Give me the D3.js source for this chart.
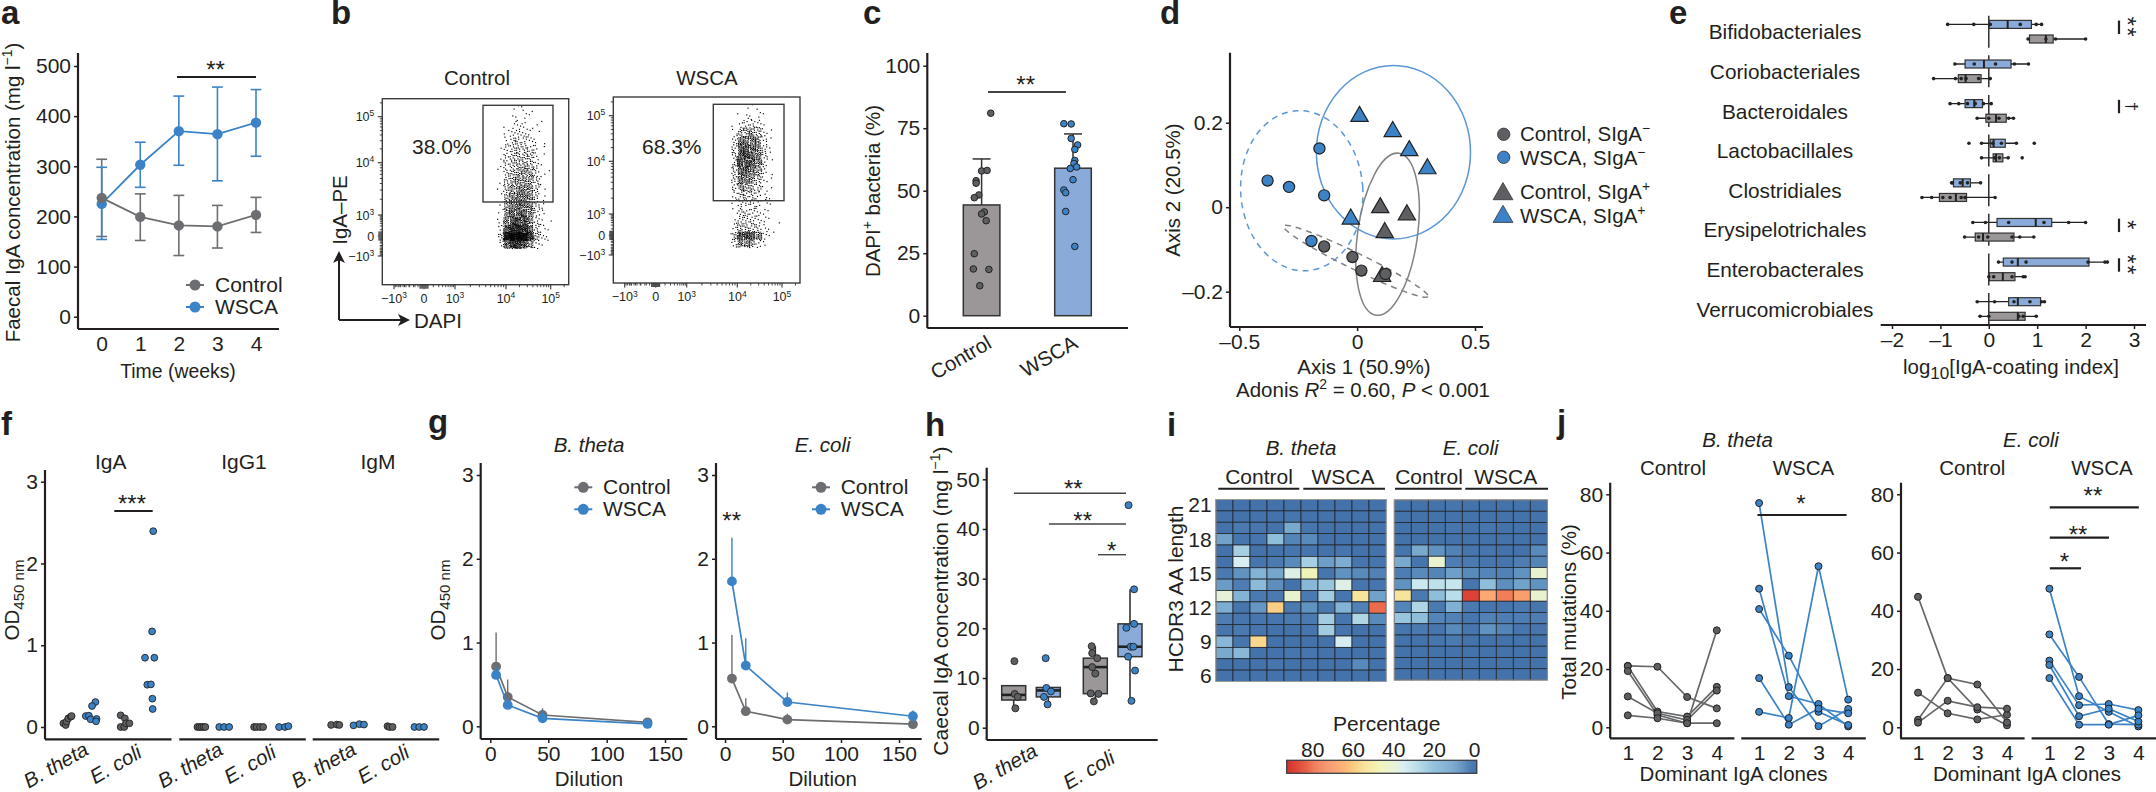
<!DOCTYPE html>
<html><head><meta charset="utf-8">
<script src="https://cdn.jsdelivr.net/npm/d3@7"></script>
<style>html,body{margin:0;padding:0;background:#fff}svg{display:block;font-family:"Liberation Sans",Arial,sans-serif}</style>
</head><body><svg id="c" width="2156" height="792"></svg>
<script>
// ---------- a ----------
const weeks=[0,1,2,3,4];
const aControl=[237,199,182,180,203], aControlHi=[314,245,242,222,238], aControlLo=[160,152,122,137,168];
const aWSCA=[225,303,370,364,387], aWSCAHi=[298,348,440,458,453], aWSCALo=[154,258,302,271,320];
// ---------- b: event density per gate-plot cell.
// (individual events cannot be read; dots are a stipple texture that reproduces these counts)
const bRows=d3.range(18), bCols=d3.range(9);
const bControlDensity=[
[0,0,1,1,2,1,0,0,0],[0,0,1,2,2,1,0,0,0],[0,1,2,3,3,1,1,1,0],[0,2,4,5,4,2,1,0,0],[0,3,6,7,6,4,2,1,0],[1,5,8,9,8,6,3,1,0],
[1,6,9,10,10,8,4,1,0],[1,6,9,11,12,10,5,1,0],[1,7,11,13,15,13,6,1,1],[1,9,13,15,16,14,6,1,0],[1,9,15,18,19,16,7,2,0],[1,11,18,21,22,17,7,2,0],
[1,13,21,23,23,17,7,2,0],[2,15,24,27,25,17,6,2,0],[2,20,30,32,30,18,6,2,1],[3,30,45,48,40,25,7,3,1],[8,60,80,80,70,40,12,4,2],[3,25,40,40,30,15,4,1,0]];
const bWSCADensity=[
[0,0,0,1,1,1,0,0,0],[0,0,1,2,2,2,1,0,0],[0,1,3,5,6,4,1,0,0],[0,2,10,12,14,10,3,1,0],[0,5,20,20,20,15,5,1,0],[0,7,26,28,24,18,7,1,0],
[0,8,28,32,26,20,7,1,0],[0,8,30,32,26,18,6,1,0],[0,7,26,26,20,14,4,1,0],[0,7,22,20,15,10,3,1,0],[0,6,15,12,10,7,2,1,0],[0,4,8,7,7,5,2,1,0],
[0,2,5,5,5,4,2,1,0],[0,2,6,6,5,4,2,1,0],[0,2,7,6,6,4,2,1,1],[0,4,10,8,8,6,3,1,0],[1,10,30,32,28,20,4,1,1],[0,5,18,18,12,5,2,0,0]];
const bTickVals=[-1000,0,1000,1e4,1e5];
const bPercent=["38.0%","68.3%"];
// ---------- c ----------
const cMeans=[44.3,59], cTops=[62.7,72.7];
const cControlX=[1.10,1.00,1.06,.94,.94,.97,.92,1.03,1.0,1.05,.92,.91,1.08,.98];
const cControlV=[81,57.9,58.1,54,53,48.3,47.2,41.5,40.7,38,24.8,18.7,18.5,12];
const cWSCAX=[1.90,1.98,1.98,2.05,2.02,2.02,2.01,2.04,1.97,2.0,1.90,1.92,1.92,2.02];
const cWSCAV=[76.8,76.7,70.9,68.3,66.5,62.1,60.9,59.5,58.9,54.4,50.3,49.2,41.7,27.7];
// ---------- d ----------
const dWSCAneg=[[-.16,.139],[-.38,.063],[-.289,.048],[-.14,.028],[-.194,-.08]];
const dControlNeg=[[-.14,-.093],[-.02,-.118],[.018,-.15],[.12,-.158]];
const dWSCApos=[[.01,.215],[.151,.179],[.221,.134],[.298,.091],[-.027,-.028]];
const dControlPos=[[.098,-.001],[.211,-.018],[.117,-.06],[.106,-.164]];
// cx, cy, semi axis a, semi axis b (x-axis units), tilt degrees
const dEllipseWSCApos=[.154,.13,.327,.368,0];
const dEllipseWSCAneg=[-.235,.039,.259,.34,-4];
const dEllipseControlPos=[.129,-.064,.127,.347,8];
const dEllipseControlNeg=[-.006,-.128,.341,.035,26];
// ---------- e ----------
const eOrders=["Bifidobacteriales","Coriobacteriales","Bacteroidales","Lactobacillales","Clostridiales","Erysipelotrichales","Enterobacterales","Verrucomicrobiales"];
// [whisker low, q1, median, q3, whisker high]
const eWSCABox=[[-.85,.01,.39,.88,1.11],[-.70,-.49,-.10,.46,.82],[-.80,-.49,-.30,-.13,.05],[-.15,.03,.10,.34,.57],[-.77,-.73,-.54,-.38,-.17],[-.33,.17,.97,1.30,2.0],[.20,.30,.60,2.07,2.47],[-.24,.41,.60,1.07,1.17]];
const eControlBox=[[.8,.84,1.18,1.33,2.0],[-1.14,-.63,-.48,-.16,.05],[-.24,-.06,.15,.36,.51],[-.15,.09,.15,.29,.40],[-1.38,-1.02,-.68,-.46,.13],[-.50,-.28,-.12,.52,.93],[0,.01,.29,.54,.75],[-.18,0,.60,.75,.98]];
const eWSCAPts=[[-.85,-.31,.03,.65,.98,1.09],[-.70,-.30,.14,.53,.82],[-.80,-.62,-.44,-.28,-.11,.05],[-.41,-.15,.08,.26,.57,.94],[-.77,-.75,-.59,-.44,-.17],[-.33,-.07,.41,1.14,1.65,2.0],[.20,.48,.77,2.05,2.40,2.45],[-.24,.12,.52,.85,1.09,1.15]];
const eControlPts=[[.81,1.18,1.38,2.0],[-1.14,-.69,-.57,-.47,-.21,.03],[-.24,0,.21,.41,.51],[-.15,.12,.22,.40,.69],[-1.38,-1.18,-.95,-.80,-.57,-.49,.13],[-.50,-.21,-.02,.48,.64,.93],[0,.10,.48,.71,.75],[-.18,0,.62,.71,.98]];
const eSig=[["**",0],["†",2],["*",5],["**",6]];
// ---------- f: [x position in group units, value] ----------
const fFacets=["IgA","IgG1","IgM"];
const fIgAControl=[[.65,.045],[.73,.024],[.76,.065],[.82,.106],[.91,.126],[.94,.134],[2.67,.143],[2.82,.106],[2.67,0],[2.8,0],[2.86,.045],[2.98,.045]];
const fIgAWSCA=[[1.78,.305],[1.66,.257],[1.44,.134],[1.55,.138],[1.61,.094],[1.82,.098],[1.8,.069],[3.82,2.395],[3.78,1.169],[3.53,.847],[3.86,.847],[3.61,.517],[3.74,.521],[3.79,.346],[3.8,.22]];
const fIgG1Control=[[.64,0],[.71,0],[.78,0],[.85,0],[.92,0],[2.64,0],[2.73,0],[2.85,0],[2.96,0]];
const fIgG1WSCA=[[1.41,0],[1.58,0],[1.76,0],[3.52,0],[3.73,0],[3.85,.01]];
const fIgMControl=[[.65,.025],[.85,.03],[.94,.025],[2.64,.01],[2.71,0],[2.82,0]];
const fIgMWSCA=[[1.44,.02],[1.65,.035],[1.81,.03],[3.59,0],[3.76,0],[3.93,0]];
// ---------- g ----------
const gDilB=[5,15,45,135], gDilE=[6,18,54,162];
const gBControl=[.713,.35,.135,.048], gBControlTop=[1.12,.56,.215,.09];
const gBWSCA=[.613,.255,.095,.028], gBWSCATop=[.71,.33,.18,.05];
const gEControl=[.57,.18,.08,.025], gEControlTop=[1.09,.335,.15,.06];
const gEWSCA=[1.73,.725,.29,.12], gEWSCATop=[2.25,1.05,.405,.19];
// ---------- h ----------
const hGroups=["B. theta","E. coli"];
const hBoxes=[[3.9,5.57,6.6,8.46,8.46],[4.7,6.2,7.5,8.1,8.1],[5.3,6.85,12.2,14,16.4],[5.4,14.3,16.3,20.9,27.85]];
const hPts=[
 [[.03,13.4],[.04,6.8],[.17,6.2],[.07,3.9]],
 [[-.11,14],[-.08,8],[.11,7.3],[-.18,6.2],[-.03,4.7]],
 [[-.15,16.4],[-.13,15],[.08,14],[-.13,12.2],[0,10.9],[-.19,6.9],[.13,6.8],[-.06,5.3]],
 [[-.06,44.8],[.17,27.85],[-.15,20.1],[.17,20.9],[.03,16.3],[.14,16.3],[-.08,14.3],[.21,11.5],[.06,5.4]]];
// ---------- i ----------
const iLengths=d3.range(21,5,-1);
const iBTheta=[
[0,0,0,0,0,0,0,0,0,0],[0,0,0,0,1,0,0,0,0,0],[0,2,1,0,14,1,0,0,0,0],[12,1,1,20,5,6,0,0,0,0],
[0,25,0,0,1,1,0,1,0,0],[0,36,1,2,6,25,11,15,1,1],[2,8,17,13,38,47,1,8,6,4],[10,3,19,7,0,18,22,38,1,1],
[40,17,2,2,42,2,24,1,55,12],[15,1,9,60,2,8,2,17,4,82],[3,1,1,1,2,2,24,1,27,6],[1,2,1,0,0,1,24,1,0,0],
[18,1,58,0,0,0,0,35,0,0],[14,18,0,0,1,1,0,0,0,0],[0,0,0,1,0,0,0,0,6,0],[0,0,0,0,0,0,0,0,0,0]];
const iEColi=[
[0,0,0,1,0,0,0,0,0],[0,0,0,0,0,0,0,0,0],[0,0,0,1,0,1,0,0,0],[0,0,0,0,0,0,0,0,0],
[1,14,8,4,1,1,0,0,6],[14,1,42,3,2,1,1,3,5],[3,6,5,11,6,5,4,8,42],[8,33,30,32,1,20,7,12,8],
[55,2,20,29,90,68,78,70,42],[5,27,2,16,2,1,1,2,1],[22,20,5,4,1,4,3,3,3],[1,2,1,6,1,8,5,1,1],
[0,0,1,2,0,0,0,0,0],[0,0,0,0,0,0,0,0,0],[0,0,0,0,0,0,0,0,0],[0,0,0,0,0,0,0,0,0]];
const iLegendTicks=[80,60,40,20,0];
const iColorStops=[0,5,10,20,30,36,40,47,55,62,70,80,93];
const iColorVals=["#4472ab","#5485b8","#6a9cc6","#8fbedb","#bee0eb","#d8eef3","#e4f1d8","#f1f4b8","#f7e49c","#fcc57d","#fb9e6e","#ee7653","#d6322e"];
// ---------- j ----------
const clones=[1,2,3,4];
const jBControl=[[21.1,20.8,10.4,6.5],[21,5.4,3.7,13.9],[19.3,4.2,1.4,33.3],[10.6,4.8,2.5,12.6],[4.1,3.1,1.4,1.4]];
const jBWSCA=[[77,13.8,.4,6.3],[47.6,10.7,8,.3],[40.6,24.6,5.3,.8],[16.9,.9,6.4,4.8],[5.3,3.2,55.3,9.5]];
const jEControl=[[44.8,16.9,6.1,.7],[11.9,4.8,2.7,4.3],[2.6,16.9,14.7,1.7],[1.6,9.1,6.9,6.4]];
const jEWSCA=[[47.6,10.7,5.3,.3],[31.9,17.3,1.1,.9],[22.9,7.6,8,5.9],[21.4,3.8,6.4,2],[16.9,.9,.9,4.1]];

// ======================================================
const TXT="#231f20",GREY="#6d6e71",BLUE="#3b83c6",DGREY="#5e5f62",BARG="#9b9798",BARB="#8aabd9",FS=20.5,TICKFS=21;
const svg=d3.select("#c");
function T(x,y,s,o={}){
  const t=svg.append("text").attr("x",x).attr("y",y).attr("fill",o.fill||TXT)
   .attr("font-size",o.size||FS).attr("text-anchor",o.anchor||"middle");
  if(o.weight)t.attr("font-weight",o.weight);
  if(o.italic)t.attr("font-style","italic");
  if(o.rot!=null)t.attr("transform",`rotate(${o.rot},${x},${y})`);
  const parts=Array.isArray(s)?s:[s];let shift=0;const sz=o.size||FS;
  parts.forEach(p=>{
    const q=typeof p==="string"?{t:p}:p;const sp=t.append("tspan").text(q.t);
    let target=0,fs=sz;
    if(q.sup){target=-.38*sz;fs=sz*.68}
    if(q.sub){target=.26*sz;fs=sz*.68}
    if(q.subSize)fs=q.subSize;
    sp.attr("font-size",fs);
    if(target!==shift)sp.attr("dy",target-shift);
    shift=target;
    if(q.i)sp.attr("font-style","italic");
  });
  return t;
}
function star(x,yc,s,size=24){T(x,yc+.57*size,s,{size})}
function L(x1,y1,x2,y2,col=TXT,w=2,dash){const l=svg.append("line").attr("x1",x1).attr("y1",y1).attr("x2",x2).attr("y2",y2).attr("stroke",col).attr("stroke-width",w);if(dash)l.attr("stroke-dasharray",dash);return l}
function yAxis(scale,ticks,x,top,bot,fmt=String,size=4,pad=3){
  const g=svg.append("g").attr("transform",`translate(${x},0)`).call(d3.axisLeft(scale).tickValues(ticks).tickSize(size).tickPadding(pad).tickFormat(fmt));
  g.select(".domain").remove();g.selectAll("line").attr("stroke",TXT).attr("stroke-width",1.5);
  g.selectAll("text").attr("font-size",TICKFS).attr("font-family",null).attr("fill",TXT);
  L(x,top,x,bot,TXT,2.2);
}
function xAxis(scale,ticks,y,x0,x1,fmt=String,size=4,pad=3){
  const g=svg.append("g").attr("transform",`translate(0,${y})`).call(d3.axisBottom(scale).tickValues(ticks).tickSize(size).tickPadding(pad).tickFormat(fmt));
  g.select(".domain").remove();g.selectAll("line").attr("stroke",TXT).attr("stroke-width",1.5);
  g.selectAll("text").attr("font-size",TICKFS).attr("font-family",null).attr("fill",TXT);
  L(x0,y,x1,y,TXT,2.2);
}
const panel=(s,x,y)=>T(x,y,s,{anchor:"start",size:33,weight:"bold"});
[["a",1,24],["b",331,24],["c",863,24],["d",1160,24],["e",1669,24],["f",1,435],["g",428,433],["h",925,436],["i",1167,436],["j",1557,433]].forEach(d=>panel(...d));
function legendLine(x,y,col,tx,s){L(x-9,y,x+9,y,col,2);svg.append("circle").attr("cx",x).attr("cy",y).attr("r",5.5).attr("fill",col);T(tx,y+7,s,{anchor:"start",size:21})}

// ----- a
{
 const x=d3.scalePoint(weeks,[101.7,256]),y=d3.scaleLinear([0,500],[316.7,66]);
 yAxis(y,[0,100,200,300,400,500],78,53,329);
 xAxis(x,weeks,329,78,279,String,0,7);
 [[aControl,aControlHi,aControlLo,GREY],[aWSCA,aWSCAHi,aWSCALo,BLUE]].forEach(([m,h,l,c])=>{
  weeks.forEach((w,i)=>{
   L(x(w),y(h[i]),x(w),y(l[i]),c,1.6);
   L(x(w)-5.4,y(h[i]),x(w)+5.4,y(h[i]),c,1.6);L(x(w)-5.4,y(l[i]),x(w)+5.4,y(l[i]),c,1.6);
  });
  svg.append("path").datum(m).attr("fill","none").attr("stroke",c).attr("stroke-width",1.8)
   .attr("d",d3.line().x((d,i)=>x(weeks[i])).y(d=>y(d)));
 });
 [[aWSCA,BLUE],[aControl,GREY]].forEach(([m,c])=>svg.append("g").selectAll("circle").data(m).join("circle").attr("cx",(d,i)=>x(weeks[i])).attr("cy",d=>y(d)).attr("r",5.2).attr("fill",c));
 L(177,77,256,77,TXT,2);star(215.5,64,"**");
 legendLine(195,285,GREY,215,"Control");legendLine(195,307,BLUE,215,"WSCA");
 T(178,378,"Time (weeks)",{size:19.4});
 T(20,192.5,["Faecal IgA concentration (mg l",{t:"−1",sup:1},")"],{rot:-90});
}
// ----- b
function flow(box,gate,xTicks,yTicks,density,colStart,pct,title,tx,pctx){
 const [x0,y0,x1,y1]=box;
 const X=d3.scaleLinear(bTickVals,xTicks),Y=d3.scaleLinear(bTickVals,yTicks);
 // stipple: fixed low-discrepancy placement inside each density cell (no randomness)
 const col=d3.scaleBand(bCols,[colStart,colStart+54]).padding(0),row=d3.scaleBand(bRows,[104+(x0>600?-1:0),248+(x0>600?-1:0)]).padding(0);
 let k=1,dots=[];
 density.forEach((r,ri)=>r.forEach((n,ci)=>{for(let j=0;j<n;j++,k++){dots.push([col(ci)+((k*0.7548776662)%1)*col.bandwidth(),row(ri)+((k*0.5698402910)%1)*row.bandwidth()])}}));
 svg.append("g").selectAll("rect").data(dots).join("rect").attr("x",d=>d[0]).attr("y",d=>d[1]).attr("width",1.15).attr("height",1.15).attr("fill","#000");
 svg.append("rect").attr("x",x0).attr("y",y0).attr("width",x1-x0).attr("height",y1-y0).attr("fill","none").attr("stroke","#3c3c3c").attr("stroke-width",1.4);
 svg.append("rect").attr("x",gate[0]).attr("y",gate[1]).attr("width",gate[2]-gate[0]).attr("height",gate[3]-gate[1]).attr("fill","none").attr("stroke","#3c3c3c").attr("stroke-width",1.4);
 // decades and minor ticks
 const dec=[2,3,4,5,6,7,8,9];
 const minor=(S,a,b)=>dec.map(k=>S(a)+(S(b)-S(a))*Math.log10(k));
 const minorAll=(S,v)=>[].concat(minor(S,1000,1e4),minor(S,1e4,1e5),minor(S,0,1000).map(p=>p),minor(S,0,-1000),
   [200,350,500,650,800].map(q=>S(q*-1)),[2e5].map(q=>S(1e5)+(S(1e5)-S(1e4))*Math.log10(2)));
 minorAll(X).forEach(p=>L(p,y1,p,y1+2.5,"#333",.9));
 minorAll(Y).forEach(p=>L(x0,p,x0-2.5,p,"#333",.9));
 xTicks.forEach(p=>L(p,y1,p,y1+4.5,"#333",1.1));yTicks.forEach(p=>L(x0,p,x0-4.5,p,"#333",1.1));
 [-4,-3,-2,-1,1,2,3,4].forEach(d=>{L(X(0)+d,y1,X(0)+d,y1+4,"#333",1);L(x0,Y(0)+d,x0-4,Y(0)+d,"#333",1)});
 const lab=[["−10",{t:"3",sup:1}],["0"],["10",{t:"3",sup:1}],["10",{t:"4",sup:1}],["10",{t:"5",sup:1}]];
 lab.forEach((l,i)=>{T(xTicks[i],303+(y1-284.7),l,{size:12.5});T(x0-8,yTicks[i]+4.5,l,{size:12.5,anchor:"end"})});
 T(tx,85,title);T(pctx,154,pct,{anchor:"start",size:21});
}
flow([382.3,98.7,568.7,284.7],[483,105.3,553,202],[394,424,455,506,550.7],[256,236,215,162.7,116.7],bControlDensity,497,bPercent[0],"Control",477,412);
flow([613.3,97,800,283],[713.3,104.3,784,200.7],[624.7,655.7,686.7,737.3,782],[255,235.3,214,161.3,115.7],bWSCADensity,725,bPercent[1],"WSCA",707,642);
T(347,210,"IgA–PE",{rot:-90,size:20.5});
L(339,320,339,256,TXT,2);L(339,320,406,320,TXT,2);
svg.append("path").attr("fill",TXT).attr("d","M339,251 l-6,12 l6,-3 l6,3z");
svg.append("path").attr("fill",TXT).attr("d","M410,320 l-12,-6 l3,6 l-3,6z");
T(414,328,"DAPI",{anchor:"start"});
// ----- c
{
 const x=d3.scaleLinear([1,2],[981.6,1073]),y=d3.scaleLinear([0,100],[315.7,65.7]);
 yAxis(y,[0,25,50,75,100],927.3,53,328);
 L(927.3,328,1128,328,TXT,2.2);
 [[1,cMeans[0],cTops[0],BARG],[2,cMeans[1],cTops[1],BARB]].forEach(([c,m,t,f])=>{
  svg.append("rect").attr("x",x(c)-18.3).attr("width",36.6).attr("y",y(m)).attr("height",y(0)-y(m)).attr("fill",f).attr("stroke","#333").attr("stroke-width",1.5);
  L(x(c),y(m),x(c),y(t),"#333",1.5);L(x(c)-9,y(t),x(c)+9,y(t),"#333",1.5);
 });
 [[cControlX,cControlV,DGREY],[cWSCAX,cWSCAV,BLUE]].forEach(([X,V,f])=>svg.append("g").selectAll("circle").data(V).join("circle").attr("cx",(d,i)=>x(X[i])).attr("cy",d=>y(d)).attr("r",3.3).attr("fill",f).attr("stroke","#222").attr("stroke-width",1));
 L(988,92,1066,92,"#444",1.8);star(1025.7,79,"**");
 T(993,347,"Control",{anchor:"end",rot:-30});T(1079,347,"WSCA",{anchor:"end",rot:-30});
 T(880,191,["DAPI",{t:"+",sup:1}," bacteria (%)"],{rot:-90});
}
// ----- d
{
 const x=d3.scaleLinear([-.5,.5],[1239.3,1475]),y=d3.scaleLinear([-.2,.2],[291.7,122.7]);
 const ux=235.7;
 [[dEllipseWSCApos,"#5b97d5",null],[dEllipseWSCAneg,"#5b97d5","6,5"],[dEllipseControlPos,"#818285",null],[dEllipseControlNeg,"#818285","6,5"]].forEach(([e,c,ds])=>{
  const el=svg.append("ellipse").attr("cx",x(e[0])).attr("cy",y(e[1])).attr("rx",e[2]*ux).attr("ry",e[3]*ux).attr("fill","none").attr("stroke",c).attr("stroke-width",1.5)
   .attr("transform",`rotate(${e[4]},${x(e[0])},${y(e[1])})`);
  if(ds)el.attr("stroke-dasharray",ds);
 });
 yAxis(y,[-.2,0,.2],1230,52.7,327,d=>d===0?"0":(d<0?"–0.2":"0.2"));
 xAxis(x,[-.5,0,.5],327,1230,1483,d=>d===0?"0":(d<0?"–0.5":"0.5"),4,3);
 const tri=d3.symbol(d3.symbolTriangle,130);
 [[dControlPos,DGREY],[dWSCApos,BLUE]].forEach(([P,f])=>svg.append("g").selectAll("path").data(P).join("path").attr("d",tri).attr("transform",d=>`translate(${x(d[0])},${y(d[1])})`).attr("fill",f).attr("stroke","#222").attr("stroke-width",1.2));
 [[dWSCAneg,BLUE],[dControlNeg,DGREY]].forEach(([P,f])=>svg.append("g").selectAll("circle").data(P).join("circle").attr("cx",d=>x(d[0])).attr("cy",d=>y(d[1])).attr("r",5.6).attr("fill",f).attr("stroke","#222").attr("stroke-width",1.2));
 [[134.3,DGREY],[157.3,BLUE]].forEach(([py,f])=>svg.append("circle").attr("cx",1503.7).attr("cy",py).attr("r",6.2).attr("fill",f).attr("stroke","#333").attr("stroke-width",.8));
 const triL=d3.symbol(d3.symbolTriangle,170);
 [[194,DGREY],[216.7,BLUE]].forEach(([py,f])=>svg.append("path").attr("d",triL).attr("transform",`translate(1503,${py})`).attr("fill",f).attr("stroke","#333").attr("stroke-width",.8));
 T(1520,140.7,["Control, SIgA",{t:"−",sup:1}],{anchor:"start"});
 T(1520,165,["WSCA, SIgA",{t:"−",sup:1}],{anchor:"start"});
 T(1520,199,["Control, SIgA",{t:"+",sup:1}],{anchor:"start"});
 T(1520,222.7,["WSCA, SIgA",{t:"+",sup:1}],{anchor:"start"});
 T(1364,374,"Axis 1 (50.9%)");
 T(1363,397,["Adonis ",{t:"R",i:1},{t:"2",sup:1}," = 0.60, ",{t:"P",i:1}," < 0.001"]);
 T(1180,190,"Axis 2 (20.5%)",{rot:-90});
}
// ----- e
{
 const x=d3.scaleLinear([-2,3],[1892,2134]),y=d3.scalePoint(eOrders,[31.7,309]);
 xAxis(x,[-2,-1,0,1,2,3],325,1880.7,2146,d=>d<0?"–"+(-d):String(d),4,3);
 eOrders.forEach((o,i)=>{
  const c=y(o);
  T(1785,c+7.6,o,{size:20.8});
  L(x(0),c-16,x(0),i===7?325:c+16,TXT,1.4);
  [[eWSCABox[i],eWSCAPts[i],c-7.3,BARB],[eControlBox[i],eControlPts[i],c+7.3,BARG]].forEach(([b,p,yy,f])=>{
   L(x(b[0]),yy,x(b[4]),yy,"#222",1.3);
   svg.append("rect").attr("x",x(b[1])).attr("y",yy-4).attr("width",x(b[3])-x(b[1])).attr("height",8).attr("fill",f).attr("stroke","#333").attr("stroke-width",1.2);
   L(x(b[2]),yy-4,x(b[2]),yy+4,"#222",2);
   svg.append("g").selectAll("circle").data(p).join("circle").attr("cx",d=>x(d)).attr("cy",yy).attr("r",1.8).attr("fill","#222");
  });
 });
 eSig.forEach(([s,i])=>{
  const c=y(eOrders[i])-4.4;
  L(2119,c-6.7,2119,c+6.7,TXT,2.2);
  const dag=s==="†";
  const g=svg.append("text").attr("transform",`translate(2126,${c}) rotate(90)`).attr("text-anchor","middle").attr("font-size",dag?17:24).attr("fill",TXT).text(s);
  g.attr("y",dag?0:7).attr("letter-spacing",dag?0:1.5);
 });
 T(2011,374,["log",{t:"10",sub:1,subSize:17},"[IgA-coating index]"]);
}
// ----- f
{
 const y=d3.scaleLinear([0,3],[727,481.7]);
 const starts=[45,179.3,312.7],u=d3.scaleLinear([0,1],[0,28.33]);
 yAxis(y,[0,1,2,3],45,470,739.3);
 const sets=[[fIgAControl,fIgAWSCA],[fIgG1Control,fIgG1WSCA],[fIgMControl,fIgMWSCA]];
 fFacets.forEach((t,i)=>{
  const s=starts[i];
  L(s,739.3,s+126.5,739.3,TXT,2.2);
  T([110.7,244,378][i],469,t,{size:21});
  T(s+45,753.5,"B. theta",{anchor:"end",italic:1,rot:-30});
  T(s+98.3,756.5,"E. coli",{anchor:"end",italic:1,rot:-30});
  [[sets[i][0],DGREY],[sets[i][1],BLUE]].forEach(([P,f])=>svg.append("g").selectAll("circle").data(P).join("circle").attr("cx",d=>s+u(d[0])).attr("cy",d=>y(d[1])).attr("r",3.4).attr("fill",f).attr("stroke","#222").attr("stroke-width",.9));
 });
 L(114.3,511,152.7,511,TXT,2);star(132,498.7,"***");
 T(18.7,600,["OD",{t:"450 nm",sub:1,subSize:15}],{rot:-90});
}
// ----- g
function gPanel(ax,xr,xEnd,dil,c,cT,w,wT,title,tx,lx,ltx,stars){
 const x=d3.scaleLinear([0,50,100,150],xr),y=d3.scaleLinear([0,3],[726.3,475]);
 yAxis(y,[0,1,2,3],ax,463,739);
 xAxis(x,[0,50,100,150],739,ax,xEnd);
 [[c,cT,GREY],[w,wT,BLUE]].forEach(([m,t,col])=>{
  m.forEach((d,i)=>L(x(dil[i]),y(d),x(dil[i]),y(t[i]),col,1.4));
  svg.append("path").datum(m).attr("fill","none").attr("stroke",col).attr("stroke-width",1.7).attr("d",d3.line().x((d,i)=>x(dil[i])).y(d=>y(d)));
  svg.append("g").selectAll("circle").data(m).join("circle").attr("cx",(d,i)=>x(dil[i])).attr("cy",d=>y(d)).attr("r",4.9).attr("fill",col);
 });
 T(tx,452,title,{italic:1});
 T(tx,786,"Dilution");
 legendLine(lx,487.3,GREY,ltx,"Control");legendLine(lx,509.3,BLUE,ltx,"WSCA");
 if(stars)star(731.7,515.7,"**");
}
gPanel(480.7,[490.3,548.3,606.7,665],687.3,gDilB,gBControl,gBControlTop,gBWSCA,gBWSCATop,"B. theta",589,583.3,603,false);
gPanel(716,[725,782.7,841,899],921.7,gDilE,gEControl,gEControlTop,gEWSCA,gEWSCATop,"E. coli",822.7,821,840.7,true);
T(445,600,["OD",{t:"450 nm",sub:1,subSize:15}],{rot:-90});
// ----- h
{
 const y=d3.scaleLinear([0,50],[727.7,479.3]);
 const cx=[1013.7,1048.3,1095.3,1130];
 yAxis(y,[0,10,20,30,40,50],986.7,467.7,740);
 L(986.7,740,1157.7,740,TXT,2.2);
 hBoxes.forEach((b,i)=>{
  const f=i%2?BARB:BARG,w=24;
  L(cx[i],y(b[0]),cx[i],y(b[4]),"#333",1.6);
  svg.append("rect").attr("x",cx[i]-w/2).attr("width",w).attr("y",y(b[3])).attr("height",y(b[1])-y(b[3])).attr("fill",f).attr("stroke","#333").attr("stroke-width",1.5);
  L(cx[i]-w/2,y(b[2]),cx[i]+w/2,y(b[2]),"#222",2.6);
  svg.append("g").selectAll("circle").data(hPts[i]).join("circle").attr("cx",d=>cx[i]+d[0]*w).attr("cy",d=>y(d[1])).attr("r",3.5).attr("fill",i%2?BLUE:DGREY).attr("stroke","#222").attr("stroke-width",.9);
 });
 L(1014,493.3,1126,493.3,"#444",1.4);star(1073.3,483,"**");
 L(1049,524,1126,524,"#444",1.4);star(1082.7,515,"**");
 L(1098,554.7,1126,554.7,"#444",1.4);star(1111.7,545,"*");
 T(1039,755,hGroups[0],{anchor:"end",italic:1,rot:-30});
 T(1116.5,762,hGroups[1],{anchor:"end",italic:1,rot:-30});
 T(948,601,["Caecal IgA concentration (mg l",{t:"−1",sup:1},")"],{rot:-90,size:21});
}
// ----- i
{
 const col=d3.scaleLinear(iColorStops,iColorVals);
 const draw=(M,x0,x1,y0,y1)=>{
  const nC=M[0].length,cx=d3.scaleBand(d3.range(nC),[x0,x1]),cy=d3.scaleBand(iLengths,[y0,y1]);
  iLengths.forEach((l,ri)=>svg.append("g").selectAll("rect").data(M[ri]).join("rect").attr("x",(d,c)=>cx(c)).attr("y",cy(l)).attr("width",cx.bandwidth()).attr("height",cy.bandwidth()).attr("fill",d=>col(d)).attr("stroke","#23272e").attr("stroke-width",.8));
  svg.append("rect").attr("x",x0).attr("y",y0).attr("width",x1-x0).attr("height",y1-y0).attr("fill","none").attr("stroke","#999").attr("stroke-width",1);
  return cy;
 };
 const cy=draw(iBTheta,1216,1386,499.5,681.5);
 draw(iEColi,1394.3,1547.3,500,680);
 [21,18,15,12,9,6].forEach(l=>T(1211.7,cy(l)+cy.bandwidth()/2+7.3,String(l),{anchor:"end",size:21}));
 T(1182.7,589,"HCDR3 AA length",{rot:-90,size:21});
 T(1301,455,"B. theta",{italic:1});T(1470.7,455,"E. coli",{italic:1});
 T(1259,484,"Control",{size:21});T(1343,484,"WSCA",{size:21});T(1429,484,"Control",{size:21});T(1505.7,484,"WSCA",{size:21});
 [[1218.3,1299.3],[1303.3,1385],[1395,1461.7],[1465.3,1548]].forEach(([a,b])=>L(a,488.7,b,488.7,TXT,2));
 T(1386.7,730.7,"Percentage",{size:21});
 const lx=d3.scaleLinear([0,80],[1474.7,1312.7]);
 iLegendTicks.forEach(v=>T(lx(v),756.7,String(v),{size:21}));
 const bx=d3.scaleLinear([0,93.5],[1476.7,1286.7]);
 svg.append("g").selectAll("rect").data(d3.range(0,93.5,.5)).join("rect").attr("x",d=>bx(d+.5)).attr("y",760.3).attr("width",bx(0)-bx(.5)+.4).attr("height",13).attr("fill",d=>col(d));
 svg.append("rect").attr("x",1286.7).attr("y",760.3).attr("width",190).attr("height",13).attr("fill","none").attr("stroke","#3d4046").attr("stroke-width",1.3);
}
// ----- j
function jPanel(xr,data,col){
 const x=d3.scalePoint(clones,xr),y=d3.scaleLinear([0,80],[727.3,494.3]);
 L(xr[0]-17.8,738.3,xr[1]+17.6,738.3,TXT,2.2);
 const g=svg.append("g").attr("transform","translate(0,738.3)").call(d3.axisBottom(x).tickSize(0).tickPadding(7));
 g.select(".domain").remove();g.selectAll("text").attr("font-size",TICKFS).attr("font-family",null).attr("fill",TXT);
 data.forEach(s=>svg.append("path").datum(s).attr("fill","none").attr("stroke",col).attr("stroke-width",1.7).attr("d",d3.line().x((d,i)=>x(clones[i])).y(d=>y(d))));
 data.forEach(s=>svg.append("g").selectAll("circle").data(s).join("circle").attr("cx",(d,i)=>x(clones[i])).attr("cy",d=>y(d)).attr("r",3.5).attr("fill",col===BLUE?BLUE:DGREY).attr("stroke","#222").attr("stroke-width",1));
}
{
 const y=d3.scaleLinear([0,80],[727.3,494.3]);
 yAxis(y,[0,20,40,60,80],1610.2,482.7,738.3);
 yAxis(y,[0,20,40,60,80],1901,482.7,738.3);
 jPanel([1627.8,1716.8],jBControl,"#666769");
 jPanel([1759.1,1848.2],jBWSCA,BLUE);
 jPanel([1918,2007],jEControl,"#666769");
 jPanel([2049.4,2138.4],jEWSCA,BLUE);
 T(1737.6,446.7,"B. theta",{italic:1});T(2031,446.7,"E. coli",{italic:1});
 T(1673,475,"Control");T(1803.5,475,"WSCA");T(1972.3,475,"Control");T(2102,475,"WSCA");
 T(1733.6,781,"Dominant IgA clones");T(2027,781,"Dominant IgA clones");
 T(1576,612,"Total mutations (%)",{rot:-90});
 L(1757.5,515,1846.6,515,TXT,2.2);star(1801,498,"*");
 L(2049.8,507.3,2138.8,507.3,TXT,2.2);star(2092.9,490,"**");
 L(2049.8,537.7,2109,537.7,TXT,2.2);star(2078,529.3,"**");
 L(2049.8,568.3,2081,568.3,TXT,2.2);star(2064.5,556,"*");
}
</script></body></html>
